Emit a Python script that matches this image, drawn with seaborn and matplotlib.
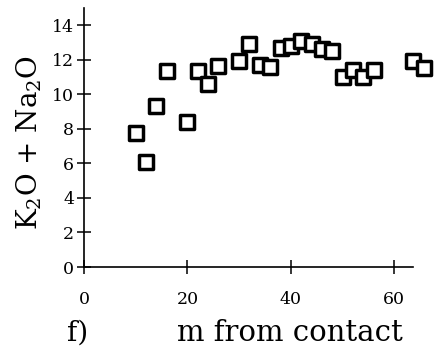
import matplotlib
matplotlib.use("Agg")
import matplotlib.pyplot as plt
import seaborn as sns
import pandas as pd

# distance from the contact (m) and total alkalis (wt %)
distance_m = [10, 12, 14, 16, 20, 22, 24, 26, 30, 32, 34, 36, 38, 40, 42,
              44, 46, 48, 50, 52, 54, 56, 63.6, 65.7]
alkalis = [7.75, 6.1, 9.3, 11.35, 8.4, 11.35, 10.6, 11.65, 11.95, 12.9, 11.7,
           11.6, 12.7, 12.8, 13.1, 12.9, 12.6, 12.5, 11.0, 11.4, 11.0, 11.4,
           11.95, 11.5]
x_ticks = [0, 20, 40, 60]
y_ticks = [0, 2, 4, 6, 8, 10, 12, 14]

df = pd.DataFrame({"m": distance_m, "alk": alkalis})

sns.set_style("ticks")
plt.rcParams["font.family"] = ["DejaVu Serif"]
plt.rcParams["mathtext.default"] = "regular"
plt.rcParams["text.color"] = "black"

fig = plt.figure(figsize=(4.36, 3.57), dpi=100)
ax = fig.add_axes([0.1927, 0.2521, 0.947 - 0.1927, 0.9776 - 0.2521])

sns.scatterplot(data=df, x="m", y="alk", ax=ax, marker="s", s=90,
                facecolor="white", edgecolor="black", linewidth=2.5,
                clip_on=False, zorder=3, legend=False)

ax.set_xlim(0, 63.6)
ax.set_ylim(0, 15)
ax.set_xticks(x_ticks)
ax.set_yticks(y_ticks)
ax.set_xlabel("")
ax.set_ylabel("")

for side in ("top", "right"):
    ax.spines[side].set_visible(False)
for side in ("left", "bottom"):
    ax.spines[side].set_linewidth(1.2)
    ax.spines[side].set_color("black")

ax.tick_params(axis="both", direction="inout", length=10, width=1.1,
               colors="black", labelcolor="black", labelsize=12.5)
ax.tick_params(axis="y", pad=2)
ax.tick_params(axis="x", pad=12)

fig.text(0.067, 0.602, r"K$_2$O + Na$_2$O", rotation=90, ha="center",
         va="center", fontsize=20, color="black")
fig.text(0.177, 0.067, "f)", ha="center", va="center", fontsize=20,
         color="black")
fig.text(0.665, 0.067, "m from contact", ha="center", va="center",
         fontsize=21, color="black")

fig.savefig("out.png", dpi=100)
